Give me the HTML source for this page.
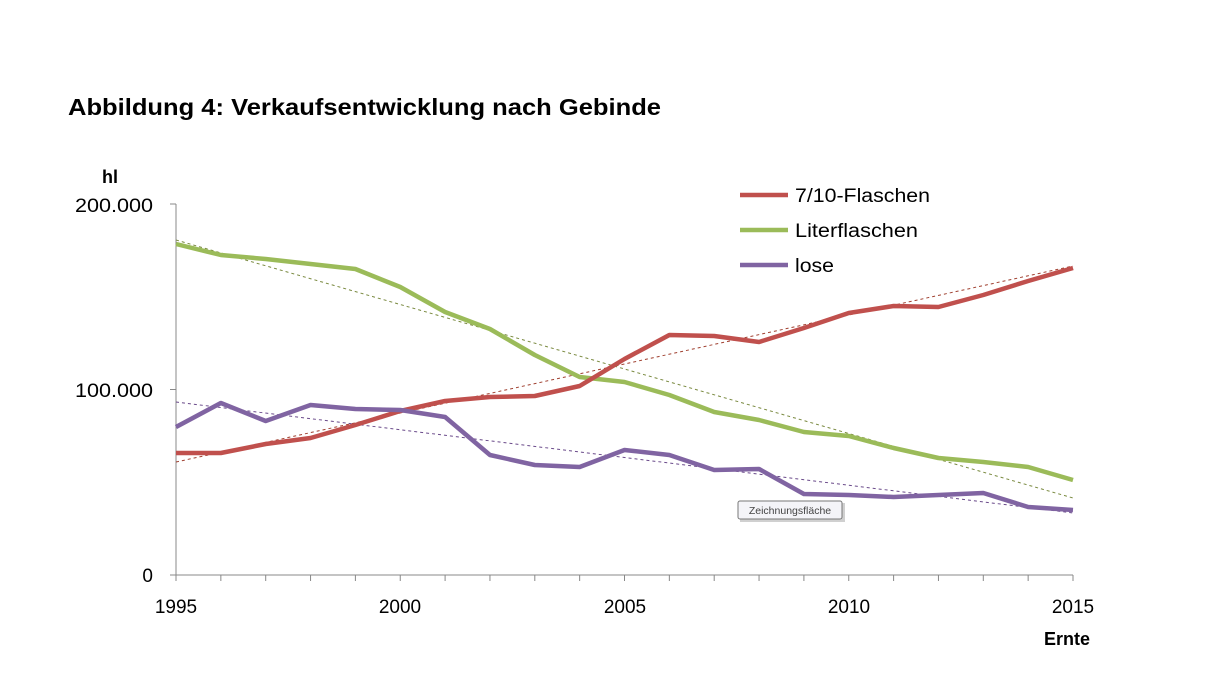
<!DOCTYPE html>
<html><head><meta charset="utf-8"><style>
body{margin:0;background:#fff;}
svg{display:block;font-family:"Liberation Sans",Calibri,sans-serif;}
</style></head><body>
<svg width="1230" height="699" viewBox="0 0 1230 699">
<rect width="1230" height="699" fill="#fff"/>
<text x="68" y="115" font-size="23" font-weight="bold" fill="#000" textLength="593" lengthAdjust="spacingAndGlyphs">Abbildung 4: Verkaufsentwicklung nach Gebinde</text>
<text x="102" y="183" font-size="18" font-weight="bold">hl</text>
<g font-size="19" fill="#000" text-anchor="end">
<text x="153" y="212" textLength="78" lengthAdjust="spacingAndGlyphs">200.000</text>
<text x="153" y="397" textLength="78" lengthAdjust="spacingAndGlyphs">100.000</text>
<text x="153" y="582">0</text>
</g>
<g stroke="#888" stroke-width="1" fill="none">
<line x1="176" y1="204" x2="176" y2="575"/>
<line x1="170" y1="204" x2="176" y2="204"/>
<line x1="170" y1="389.5" x2="176" y2="389.5"/>
<line x1="170" y1="575" x2="1073" y2="575"/>
<path d="M176 575v6M220.85 575v6M265.7 575v6M310.55 575v6M355.4 575v6M400.25 575v6M445.1 575v6M489.95 575v6M534.8 575v6M579.65 575v6M624.5 575v6M669.35 575v6M714.2 575v6M759.05 575v6M803.9 575v6M848.75 575v6M893.6 575v6M938.45 575v6M983.3 575v6M1028.15 575v6M1073 575v6"/>
</g>
<g font-size="19" text-anchor="middle">
<text x="176" y="613">1995</text>
<text x="400" y="613">2000</text>
<text x="625" y="613">2005</text>
<text x="849" y="613">2010</text>
<text x="1073" y="613">2015</text>
</g>
<text x="1090" y="645" font-size="18" font-weight="bold" text-anchor="end">Ernte</text>
<g stroke-dasharray="3,3" stroke-width="1" fill="none">
<line x1="176" y1="240" x2="1073" y2="498" stroke="#7a8a40"/>
<line x1="176" y1="462" x2="1073" y2="266" stroke="#a04030"/>
<line x1="176" y1="402" x2="1073" y2="513" stroke="#6a4a8a"/>
</g>
<g fill="none" stroke-width="4.5" stroke-linejoin="round">
<polyline stroke="#9bbb59" points="176,244 220.85,255 265.7,259 310.55,264 355.4,269 400.25,287 445.1,312 489.95,329 534.8,355 579.65,377 624.5,382 669.35,395 714.2,412 759.05,420 803.9,432 848.75,436 893.6,448 938.45,458 983.3,462 1028.15,467 1073,480"/>
<polyline stroke="#c0504d" points="176,453 220.85,453 265.7,444 310.55,438 355.4,425 400.25,411 445.1,401 489.95,397 534.8,396 579.65,386 624.5,359 669.35,335 714.2,336 759.05,342 803.9,328 848.75,313 893.6,306 938.45,307 983.3,295 1028.15,281 1073,268"/>
<polyline stroke="#8064a2" points="176,427 220.85,403 265.7,421 310.55,405 355.4,409 400.25,410 445.1,417 489.95,455 534.8,465 579.65,467 624.5,450 669.35,455 714.2,470 759.05,469 803.9,494 848.75,495 893.6,497 938.45,495 983.3,493 1028.15,507 1073,510"/>
</g>
<g stroke-width="4.5">
<line x1="740" y1="195" x2="788" y2="195" stroke="#c0504d"/>
<line x1="740" y1="230" x2="788" y2="230" stroke="#9bbb59"/>
<line x1="740" y1="265" x2="788" y2="265" stroke="#8064a2"/>
</g>
<g font-size="19">
<text x="795" y="202" textLength="135" lengthAdjust="spacingAndGlyphs">7/10-Flaschen</text>
<text x="795" y="237" textLength="123" lengthAdjust="spacingAndGlyphs">Literflaschen</text>
<text x="795" y="272" textLength="39" lengthAdjust="spacingAndGlyphs">lose</text>
</g>
<rect x="740" y="503" width="105" height="19" fill="#777" opacity="0.35"/>
<rect x="738" y="501" width="104" height="18" fill="#f4f4f8" stroke="#777" stroke-width="1" rx="2"/>
<text x="790" y="514" font-size="10.5" text-anchor="middle" fill="#444">Zeichnungsfläche</text>
</svg>
</body></html>
